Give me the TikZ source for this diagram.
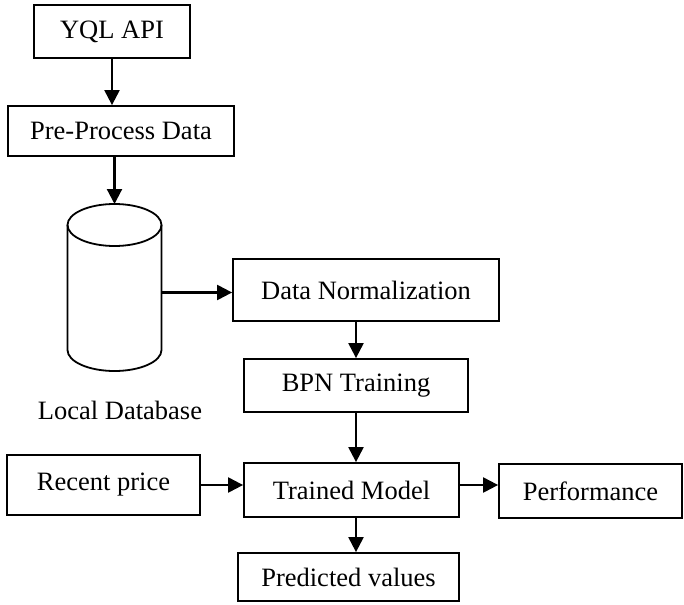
\documentclass[tikz,border=0pt]{standalone}
\usepackage{fontspec}
\setmainfont{Liberation Serif}
\usetikzlibrary{arrows.meta}
\begin{document}
\begin{tikzpicture}[x=1pt,y=-1pt,
  box/.style={draw, line width=1.8pt, inner sep=0pt, font=\fontsize{26.5}{30}\selectfont},
  arr/.style={line width=2.2pt, -{Triangle[length=15pt,width=15pt]}},
  lbl/.style={inner sep=0pt, font=\fontsize{26.5}{30}\selectfont}]
\useasboundingbox (0,0) rectangle (684,604);
% boxes
\node[box, minimum width=156pt, minimum height=53pt] (yql) at (112,31.5) {YQL API};
\node[box, minimum width=226pt, minimum height=50pt] (pre) at (121,131) {Pre-Process Data};
\node[box, minimum width=266pt, minimum height=62pt] (dn) at (366,290) {Data Normalization};
\node[box, minimum width=224pt, minimum height=53pt] (bpn) at (356,385.5) {BPN Training};
\node[box, minimum width=215pt, minimum height=54pt] (tm) at (351.5,490) {Trained Model};
\node[box, minimum width=193pt, minimum height=60pt] (rp) at (103.5,485) {Recent price};
\node[box, minimum width=183pt, minimum height=54pt] (perf) at (590.5,491) {Performance};
\node[box, minimum width=221pt, minimum height=48pt] (pv) at (348.5,577) {Predicted values};
% cylinder (local database)
\coordinate (dbtop) at (114.5,204);
\coordinate (dbright) at (161.5,292.5);
\draw[line width=1.8pt] (114.5,225) ellipse [x radius=47, y radius=21];
\draw[line width=1.8pt] (67.5,225) -- (67.5,350) arc [start angle=180, end angle=0, x radius=47, y radius=21] -- (161.5,225);
\node[lbl] (dblabel) at (120,410) {Local Database};
% connectors
\draw[arr] (yql.south) -- (yql.south |- pre.north);
\draw[arr] (pre.south -| dbtop) -- (dbtop);
\draw[arr] (dbright) -- (dbright -| dn.west);
\draw[arr] (dn.south -| bpn.north) -- (bpn.north);
\draw[arr] (bpn.south) -- (bpn.south |- tm.north);
\draw[arr] (rp.east) -- (rp.east -| tm.west);
\draw[arr] (tm.east |- rp.east) -- (perf.west |- rp.east);
\draw[arr] (tm.south -| bpn.south) -- (pv.north -| bpn.south);
\end{tikzpicture}
\end{document}
